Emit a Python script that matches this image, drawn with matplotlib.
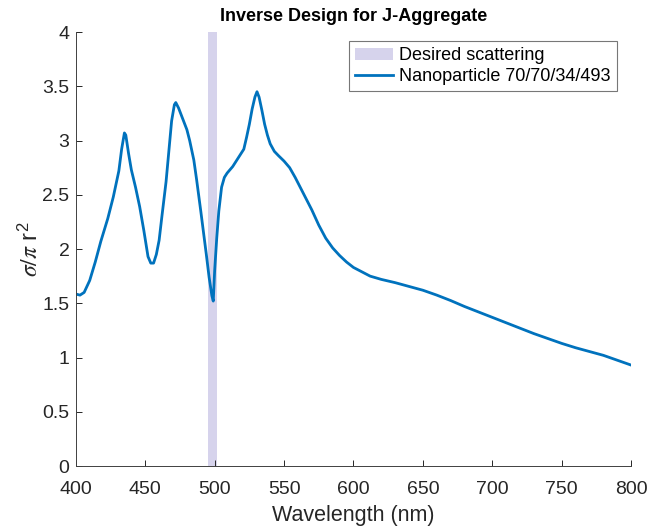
import matplotlib
matplotlib.use('Agg')
import matplotlib.pyplot as plt

# spectrum
wavelength = [400, 403, 406, 410, 414, 418, 423, 427, 431, 433, 435, 436, 438, 440,
              443, 446, 449, 452, 454, 456, 458, 460, 462, 465, 467, 469, 471, 472,
              474, 477, 480, 482, 485, 487, 490, 492, 494, 496, 498, 499, 500, 501.5,
              503, 505, 507, 509, 513, 516, 519, 521, 523, 525, 527, 529, 530.5, 532,
              534, 536, 538, 540, 543, 546, 550, 554, 558, 562, 566, 570, 575, 580,
              585, 590, 595, 600, 606, 612, 620, 630, 640, 650, 660, 670, 680, 690,
              700, 710, 720, 730, 740, 750, 760, 770, 780, 790, 800]
sigma = [1.585, 1.575, 1.60, 1.71, 1.88, 2.07, 2.28, 2.48, 2.72, 2.92, 3.07, 3.05, 2.88, 2.73,
         2.57, 2.39, 2.17, 1.93, 1.87, 1.87, 1.95, 2.08, 2.30, 2.62, 2.90, 3.18, 3.33, 3.35,
         3.30, 3.20, 3.10, 3.00, 2.82, 2.64, 2.35, 2.15, 1.95, 1.74, 1.57, 1.52, 1.80, 2.10,
         2.35, 2.57, 2.66, 2.70, 2.76, 2.82, 2.88, 2.92, 3.03, 3.15, 3.29, 3.40, 3.45, 3.40,
         3.28, 3.15, 3.05, 2.97, 2.90, 2.86, 2.81, 2.75, 2.66, 2.56, 2.46, 2.36, 2.22, 2.10,
         2.01, 1.94, 1.88, 1.83, 1.79, 1.75, 1.72, 1.69, 1.655, 1.62, 1.575, 1.525, 1.47, 1.42,
         1.37, 1.32, 1.27, 1.22, 1.175, 1.13, 1.09, 1.055, 1.02, 0.975, 0.93]

band = (495, 502)
xticks = [400, 450, 500, 550, 600, 650, 700, 750, 800]
yticks = [0, 0.5, 1, 1.5, 2, 2.5, 3, 3.5, 4]

plt.rcParams['font.family'] = ['Liberation Sans', 'DejaVu Sans']
plt.rcParams['mathtext.fontset'] = 'stix'

fig = plt.figure(figsize=(6.48, 5.31), dpi=100)
ax = fig.add_axes([0.117, 0.1224, 0.857, 0.8173])

ax.axvspan(band[0], band[1], color='#d6d3ec', lw=0, label='Desired scattering')
ax.plot(wavelength, sigma, color='#0072BD', lw=2, label='Nanoparticle 70/70/34/493')

ax.set_xlim(400, 800)
ax.set_ylim(0, 4)
ax.set_xticks(xticks)
ax.set_yticks(yticks)
ax.set_yticklabels(['0', '0.5', '1', '1.5', '2', '2.5', '3', '3.5', '4'])

for s in ['top', 'right']:
    ax.spines[s].set_visible(False)
for s in ['left', 'bottom']:
    ax.spines[s].set_color('#404040')
    ax.spines[s].set_linewidth(0.7)
ax.tick_params(direction='in', length=4.5, width=0.7, colors='#262626', labelsize=14)
ax.tick_params(axis='x', pad=11)
ax.tick_params(axis='y', pad=4.5)

ax.set_xlabel('Wavelength (nm)', fontsize=15.5, color='#262626', labelpad=5)
ax.set_ylabel(r'$\sigma/\pi$ r$^\mathregular{2}$', fontsize=17, color='#262626', labelpad=0)
ax.set_title('Inverse Design for J-Aggregate', fontsize=13, fontweight='bold', pad=8)

leg = ax.legend(loc='upper right', fontsize=13, frameon=True, fancybox=False,
                bbox_to_anchor=(0.975, 0.979), borderaxespad=0, handlelength=2.1,
                handletextpad=0.35, borderpad=0.35, labelspacing=0.2)
leg.get_frame().set_edgecolor('#555555')
leg.get_frame().set_linewidth(0.8)

fig.savefig('out.png', dpi=100)
